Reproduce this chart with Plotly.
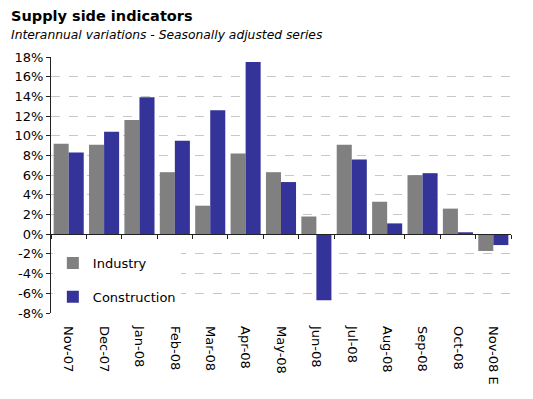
import plotly.graph_objects as go

categories = ["Nov-07", "Dec-07", "Jan-08", "Feb-08", "Mar-08", "Apr-08", "May-08",
              "Jun-08", "Jul-08", "Aug-08", "Sep-08", "Oct-08", "Nov-08 E"]
industry = [9.2, 9.1, 11.6, 6.3, 2.9, 8.2, 6.3, 1.8, 9.1, 3.3, 6.0, 2.6, -1.7]
construction = [8.3, 10.4, 13.9, 9.5, 12.6, 17.5, 5.3, -6.7, 7.6, 1.1, 6.2, 0.2, -1.1]
y_ticks = list(range(-8, 20, 2))
y_tick_labels = [f"{v}%" for v in y_ticks]

FONT = "DejaVu Sans"
OFF = 8  # page body margin
W, H = 533 - OFF, 399 - OFF
# target pixel positions in the 533x399 window
PL, PR, PT, PB = 51, 511, 57, 313
L, T = PL - OFF, PT - OFF
R, B = 533 - PR, 399 - PB
pw, ph = PR - PL, PB - PT
ymin, ymax = -8, 18

def px_x(x):
    return (x - PL) / pw

def px_y(y):
    return (PB - y) / ph

fig = go.Figure()
fig.add_trace(go.Bar(x=categories, y=industry, name="Industry", marker_color="#808080",
                     marker_line_width=0, legendgroup="a"))
fig.add_trace(go.Bar(x=categories, y=construction, name="Construction", marker_color="#333399",
                     marker_line_width=0, legendgroup="b"))

fig.update_layout(
    width=W, height=H,
    margin=dict(l=L, r=R, t=T, b=B, pad=0, autoexpand=False),
    paper_bgcolor="white", plot_bgcolor="white",
    barmode="group", bargap=0.15, bargroupgap=0,
    font=dict(family=FONT, size=13, color="#000000"),
    showlegend=True,
    legend=dict(x=0.004, y=px_y(248), xanchor="left", yanchor="top",
                bgcolor="white", borderwidth=0, traceorder="grouped",
                tracegroupgap=14, font=dict(size=13)),
    xaxis=dict(type="category", showline=False, showgrid=False, zeroline=False,
               ticks="", tickangle=90, ticklabelstandoff=12, automargin=False,
               tickfont=dict(size=13), range=[-0.5, len(categories) - 0.5]),
    xaxis2=dict(overlaying="x", anchor="free", position=(0 - ymin) / (ymax - ymin),
                side="bottom", type="linear", range=[-0.5, len(categories) - 0.5],
                tickvals=[i - 0.5 for i in range(len(categories) + 1)],
                showticklabels=False, ticks="outside", ticklen=4, tickcolor="#222222",
                showline=True, linecolor="#222222", linewidth=1, showgrid=False,
                zeroline=False, automargin=False),
    yaxis=dict(range=[ymin, ymax], tickvals=y_ticks, ticktext=y_tick_labels,
               showgrid=True, gridcolor="#c8c8c8", griddash="dash", gridwidth=1,
               zeroline=False, showline=True, linecolor="#222222", linewidth=1,
               ticks="outside", ticklen=4, tickcolor="#222222", automargin=False,
               tickfont=dict(size=13)),
    annotations=[
        dict(text="<b>Supply side indicators</b>", xref="paper", yref="paper",
             x=px_x(9), y=px_y(16), xanchor="left", yanchor="middle",
             showarrow=False, font=dict(family=FONT, size=14.5, color="#000000")),
        dict(text="<i>Interannual variations - Seasonally adjusted series</i>",
             xref="paper", yref="paper", x=px_x(9), y=px_y(35),
             xanchor="left", yanchor="middle", showarrow=False,
             font=dict(family=FONT, size=12.3, color="#000000")),
    ],
)
# invisible trace carrying the zero-line axis with boundary ticks
fig.add_trace(go.Scatter(x=[], y=[], xaxis="x2", showlegend=False, hoverinfo="skip"))

fig.write_html("out.html")
